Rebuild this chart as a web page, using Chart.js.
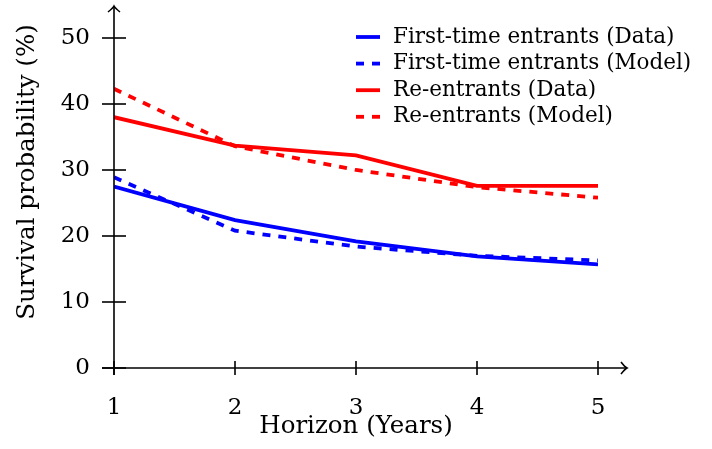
<!DOCTYPE html>
<html>
<head>
<meta charset="utf-8">
<script src="https://cdn.jsdelivr.net/npm/chart.js@4.4.0/dist/chart.umd.min.js"></script>
<style>
  body { margin: 0; background: #fff; }
</style>
</head>
<body>
<canvas id="chart" width="712" height="449"></canvas>
<script>
var years = [1, 2, 3, 4, 5];
var firstData = [27.5, 22.4, 19.2, 16.9, 15.7];
var firstModel = [28.9, 20.8, 18.4, 17.0, 16.3];
var reData = [38.0, 33.7, 32.2, 27.6, 27.6];
var reModel = [42.3, 33.6, 30.0, 27.4, 25.8];
var seriesLabels = ['First-time entrants (Data)', 'First-time entrants (Model)', 'Re-entrants (Data)', 'Re-entrants (Model)'];
var yTicks = [0, 10, 20, 30, 40, 50];

var serif = "'DejaVu Serif', serif";
var tickSize = 23;

function pts(vals) {
    return years.map(function (yr, i) { return { x: yr, y: vals[i] }; });
}

function line(label, vals, color, dashed, order) {
    return {
        label: label,
        data: pts(vals),
        borderColor: color,
        backgroundColor: color,
        borderWidth: 3.8,
        borderDash: dashed ? [8, 8] : [],
        borderCapStyle: 'butt',
        pointRadius: 0,
        tension: 0,
        order: order
    };
}

// axis lines with tick marks, arrows and titles, plus the legend box
var axesPlugin = {
    id: 'axes',
    afterDraw: function (chart) {
        var ctx = chart.ctx;
        var xs = chart.scales.x, ys = chart.scales.y;
        var x0 = xs.getPixelForValue(1), y0 = ys.getPixelForValue(0);
        var area = chart.chartArea;
        ctx.save();
        ctx.strokeStyle = '#000';
        ctx.lineWidth = 1.6;
        ctx.setLineDash([]);

        // x axis
        var xEnd = area.right + 29;
        ctx.beginPath();
        ctx.moveTo(x0 - 12, y0);
        ctx.lineTo(xEnd, y0);
        ctx.stroke();
        ctx.beginPath();
        ctx.moveTo(xEnd - 6, y0 - 6);
        ctx.quadraticCurveTo(xEnd - 2, y0 - 1, xEnd, y0);
        ctx.quadraticCurveTo(xEnd - 2, y0 + 1, xEnd - 6, y0 + 6);
        ctx.stroke();

        // y axis
        var yEnd = area.top - 32;
        ctx.beginPath();
        ctx.moveTo(x0, y0 + 7);
        ctx.lineTo(x0, yEnd);
        ctx.stroke();
        ctx.beginPath();
        ctx.moveTo(x0 - 6, yEnd + 6);
        ctx.quadraticCurveTo(x0 - 1, yEnd + 2, x0, yEnd);
        ctx.quadraticCurveTo(x0 + 1, yEnd + 2, x0 + 6, yEnd + 6);
        ctx.stroke();

        // tick marks
        years.forEach(function (v) {
            var px = xs.getPixelForValue(v);
            ctx.beginPath();
            ctx.moveTo(px, y0 - 7);
            ctx.lineTo(px, y0 + 7);
            ctx.stroke();
        });
        yTicks.forEach(function (v) {
            var py = ys.getPixelForValue(v);
            ctx.beginPath();
            ctx.moveTo(x0 - 12, py);
            ctx.lineTo(x0 + 12, py);
            ctx.stroke();
        });

        // axis titles
        ctx.fillStyle = '#000';
        ctx.font = '24.5px ' + serif;
        ctx.textAlign = 'center';
        ctx.textBaseline = 'middle';
        ctx.fillText('Horizon (Years)', 356, 427);
        ctx.save();
        ctx.translate(28, 172);
        ctx.rotate(-Math.PI / 2);
        ctx.fillText('Survival probability (%)', 0, 0);
        ctx.restore();

        // legend
        ctx.font = '21.5px ' + serif;
        ctx.textAlign = 'left';
        chart.data.datasets.forEach(function (ds, i) {
            var ly = 37 + i * 26.6;
            ctx.strokeStyle = ds.borderColor;
            ctx.lineWidth = ds.borderWidth;
            ctx.lineCap = 'butt';
            ctx.setLineDash(ds.borderDash);
            ctx.beginPath();
            ctx.moveTo(356, ly);
            ctx.lineTo(380, ly);
            ctx.stroke();
            ctx.setLineDash([]);
            ctx.fillText(ds.label, 393, ly);
        });
        ctx.restore();
    }
};

new Chart(document.getElementById('chart'), {
    type: 'line',
    data: {
        datasets: [
            line(seriesLabels[0], firstData, '#0000ff', false, 4),
            line(seriesLabels[1], firstModel, '#0000ff', true, 3),
            line(seriesLabels[2], reData, '#ff0000', false, 2),
            line(seriesLabels[3], reModel, '#ff0000', true, 1)
        ]
    },
    options: {
        responsive: false,
        animation: false,
        layout: { padding: { top: 38, right: 114, left: 0, bottom: 0 } },
        plugins: {
            legend: { display: false },
            tooltip: { enabled: false }
        },
        scales: {
            x: {
                type: 'linear',
                min: 1,
                max: 5,
                afterFit: function (s) { s.height = 81; },
                grid: { display: false, drawTicks: false },
                border: { display: false },
                ticks: {
                    stepSize: 1,
                    padding: 26,
                    color: '#000',
                    font: { family: serif, size: tickSize },
                    maxRotation: 0
                }
            },
            y: {
                min: 0,
                max: 50,
                afterFit: function (s) { s.width = 114; },
                grid: { display: false, drawTicks: false },
                border: { display: false },
                ticks: {
                    stepSize: 10,
                    padding: 24,
                    color: '#000',
                    font: { family: serif, size: tickSize }
                }
            }
        }
    },
    plugins: [axesPlugin]
});
</script>
</body>
</html>
